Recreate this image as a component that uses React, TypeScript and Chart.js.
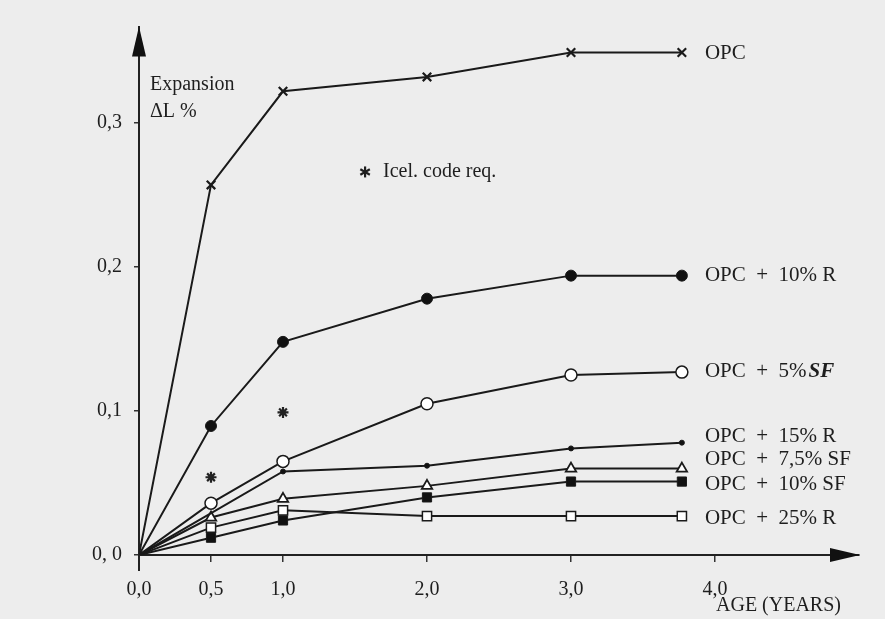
import { useEffect, useRef } from 'react';
import { Chart, registerables } from 'chart.js';

Chart.register(...registerables);

// ---- data ----
const ages = [0, 0.5, 1, 2, 3, 3.77];
const opc = [0, 0.257, 0.322, 0.332, 0.349, 0.349];
const opc10R = [0, 0.0896, 0.148, 0.178, 0.194, 0.194];
const opc5SF = [0, 0.036, 0.065, 0.105, 0.125, 0.127];
const ages15R = [0, 1, 2, 3, 3.77];
const opc15R = [0, 0.058, 0.062, 0.074, 0.078];
const opc75SF = [0, 0.026, 0.039, 0.048, 0.06, 0.06];
const opc10SF = [0, 0.012, 0.024, 0.04, 0.051, 0.051];
const opc25R = [0, 0.019, 0.031, 0.027, 0.027, 0.027];
const icelAges = [0.5, 1];
const icelReq = [0.054, 0.099];

const xTickValues = [0, 0.5, 1, 2, 3, 4];
const xTickLabels = ['0,0', '0,5', '1,0', '2,0', '3,0', '4,0'];
const yTickValues = [0, 0.1, 0.2, 0.3];
const yTickLabels = ['0, 0', '0,1', '0,2', '0,3'];

const seriesNames = [
  'OPC',
  'OPC  +  10% R',
  'OPC  +  5%',
  'OPC  +  15% R',
  'OPC  +  7,5% SF',
  'OPC  +  10% SF',
  'OPC  +  25% R',
];
const yAxisTitle = ['Expansion', 'ΔL %'];
const xAxisTitle = 'AGE (YEARS)';
const icelLabel = 'Icel. code req.';

// ---- styling ----
const INK = '#1a1a1a';
const BG = '#ededed';
const SERIF = '"Liberation Serif", "Times New Roman", serif';
const labelDy = [1, 0, -1, -6, -9, 3, 2];

const pts = (xs: number[], ys: number[]) => xs.map((x, i) => ({ x, y: ys[i] }));
const skipFirst = (r: number) => (c: any) => (c.dataIndex === 0 ? 0 : r);

function makeSeries(data: any[], style: string, radius: number, fill: string, bw: number) {
  return {
    data,
    showLine: true,
    borderColor: INK,
    borderWidth: 2,
    pointStyle: style,
    pointRadius: skipFirst(radius),
    pointBackgroundColor: fill,
    pointBorderColor: INK,
    pointBorderWidth: bw,
    tension: 0,
  };
}

const annotations = {
  id: 'annotations',
  beforeDraw(chart: any) {
    const { ctx, width, height } = chart;
    ctx.save();
    ctx.fillStyle = BG;
    ctx.fillRect(0, 0, width, height);
    ctx.restore();
  },
  afterDraw(chart: any) {
    const { ctx, chartArea } = chart;
    const xs = chart.scales.x;
    const ys = chart.scales.y;
    const { left, top, right, bottom } = chartArea;
    ctx.save();
    ctx.fillStyle = '#111';
    ctx.strokeStyle = '#222';
    // y-axis extension below origin
    ctx.lineWidth = 2;
    ctx.beginPath();
    ctx.moveTo(left, bottom);
    ctx.lineTo(left, bottom + 16);
    ctx.stroke();
    // arrowheads
    ctx.beginPath();
    ctx.moveTo(left, top);
    ctx.lineTo(left - 7, top + 30);
    ctx.lineTo(left + 7, top + 30);
    ctx.closePath();
    ctx.fill();
    ctx.beginPath();
    ctx.moveTo(right + 1, bottom);
    ctx.lineTo(right - 29, bottom - 7);
    ctx.lineTo(right - 29, bottom + 7);
    ctx.closePath();
    ctx.fill();

    ctx.fillStyle = '#1e1e1e';
    ctx.textBaseline = 'middle';
    ctx.textAlign = 'left';
    ctx.font = `20px ${SERIF}`;
    ctx.fillText(yAxisTitle[0], left + 11, ys.getPixelForValue(0.3) - 38);
    ctx.fillText(yAxisTitle[1], left + 11, ys.getPixelForValue(0.3) - 11);
    ctx.fillText(xAxisTitle, xs.getPixelForValue(4) + 1, bottom + 51);

    // Icel legend
    const ax = xs.getPixelForValue(1.57);
    const ay = ys.getPixelForValue(0.266);
    ctx.lineWidth = 2.2;
    ctx.strokeStyle = '#1e1e1e';
    for (let k = 0; k < 3; k++) {
      const a = (Math.PI / 3) * k + Math.PI / 2;
      ctx.beginPath();
      ctx.moveTo(ax - Math.cos(a) * 5.5, ay - Math.sin(a) * 5.5);
      ctx.lineTo(ax + Math.cos(a) * 5.5, ay + Math.sin(a) * 5.5);
      ctx.stroke();
    }
    ctx.fillText(icelLabel, ax + 18, ay);

    // series labels
    const ends = [opc, opc10R, opc5SF, opc15R, opc75SF, opc10SF, opc25R];
    ends.forEach((arr, i) => {
      const x = xs.getPixelForValue(ages[ages.length - 1]) + 23;
      const y = ys.getPixelForValue(arr[arr.length - 1]) + labelDy[i];
      ctx.font = `21px ${SERIF}`;
      ctx.fillText(seriesNames[i], x, y);
      if (i === 2) {
        const w = ctx.measureText(seriesNames[i]).width;
        ctx.font = `italic bold 21px ${SERIF}`;
        ctx.fillText('SF', x + w + 2, y);
      }
    });
    ctx.restore();
  },
};

export default function App() {
  const ref = useRef<HTMLCanvasElement>(null);
  useEffect(() => {
    if (!ref.current) return;
    const chart = new Chart(ref.current, {
      type: 'scatter',
      data: {
        datasets: [
          makeSeries(pts(ages, opc), 'crossRot', 6, INK, 2.2),
          makeSeries(pts(ages, opc10R), 'circle', 5.5, '#111', 1),
          makeSeries(pts(ages, opc5SF), 'circle', 6, '#fff', 1.5),
          makeSeries(pts(ages15R, opc15R), 'circle', 2.5, '#111', 1),
          makeSeries(pts(ages, opc75SF), 'triangle', 6, '#fff', 1.8),
          makeSeries(pts(ages, opc10SF), 'rect', 6.5, '#111', 1),
          makeSeries(pts(ages, opc25R), 'rect', 6.5, '#fff', 1.5),
          {
            data: pts(icelAges, icelReq),
            showLine: false,
            pointStyle: 'star',
            pointRadius: 5.5,
            pointBorderColor: '#222',
            pointBorderWidth: 2.2,
            pointBackgroundColor: '#222',
          },
        ] as any,
      },
      options: {
        responsive: false,
        animation: false,
        devicePixelRatio: 1,
        layout: { padding: { top: 26.5, right: 26, left: 0, bottom: 0 } },
        plugins: { legend: { display: false }, tooltip: { enabled: false } },
        scales: {
          x: {
            type: 'linear',
            min: 0,
            max: 5,
            afterFit: (s: any) => {
              s.height = 64;
            },
            afterBuildTicks: (s: any) => {
              s.ticks = xTickValues.map((v) => ({ value: v }));
            },
            grid: { drawOnChartArea: false, drawTicks: true, tickLength: 7, color: '#333', lineWidth: 1.5 },
            border: { display: true, color: '#222', width: 2 },
            ticks: {
              callback: (_v: any, i: number) => xTickLabels[i],
              font: { family: SERIF, size: 20 },
              color: '#1e1e1e',
              padding: 16,
              maxRotation: 0,
              autoSkip: false,
            },
          },
          y: {
            type: 'linear',
            min: 0,
            max: 0.367,
            afterFit: (s: any) => {
              s.width = 139;
            },
            afterBuildTicks: (s: any) => {
              s.ticks = yTickValues.map((v) => ({ value: v }));
            },
            grid: { drawOnChartArea: false, drawTicks: true, tickLength: 5, color: '#333', lineWidth: 1.5 },
            border: { display: true, color: '#222', width: 2 },
            ticks: {
              callback: (_v: any, i: number) => yTickLabels[i],
              font: { family: SERIF, size: 20 },
              color: '#1e1e1e',
              padding: 12,
              autoSkip: false,
            },
          },
        },
      } as any,
      plugins: [annotations],
    });
    return () => chart.destroy();
  }, []);
  return (
    <div style={{ position: 'absolute', left: 0, top: 0, width: 885, height: 619 }}>
      <canvas ref={ref} width={885} height={619} style={{ display: 'block' }} />
    </div>
  );
}
